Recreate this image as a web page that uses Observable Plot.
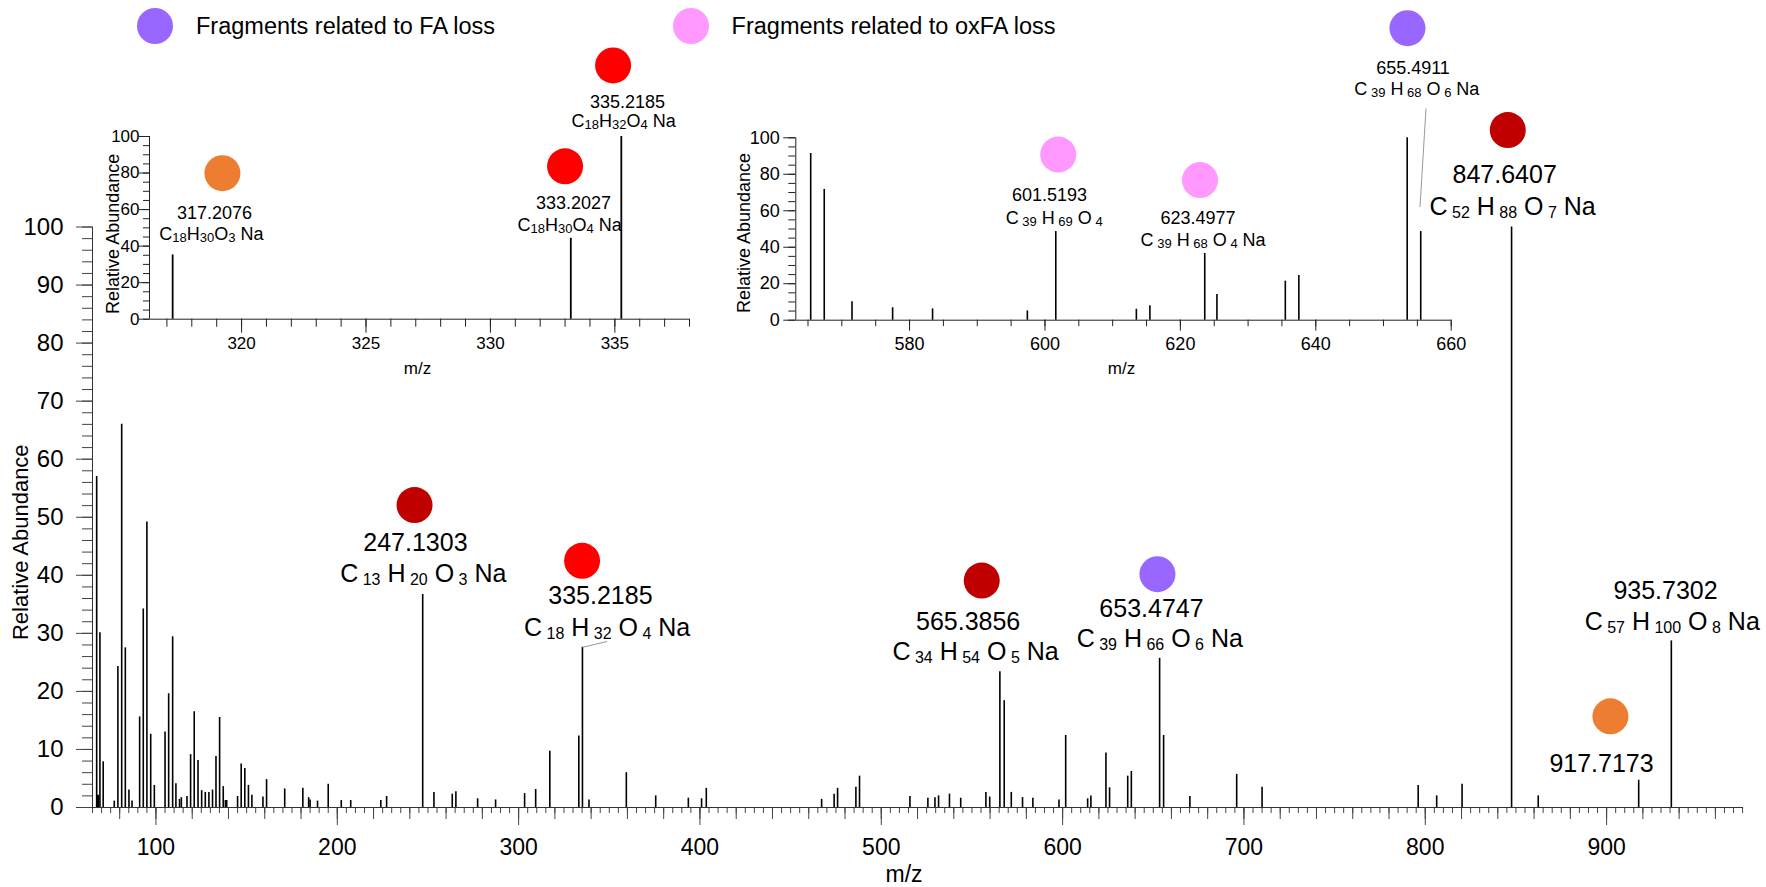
<!DOCTYPE html>
<html>
<head>
<meta charset="utf-8">
<script src="https://cdn.jsdelivr.net/npm/d3@7"></script>
<script src="https://cdn.jsdelivr.net/npm/@observablehq/plot@0.6"></script>
<style>
  html, body { margin: 0; padding: 0; background: #fff; overflow: hidden; }
  #wrap { position: relative; width: 1766px; height: 887px; font-family: "Liberation Sans", Arial, Helvetica, sans-serif; }
  #wrap svg { position: absolute; left: 0; top: 0; }
  #wrap svg text, #wrap svg tspan { white-space: pre; }
  .legend-item { position: absolute; top: 8px; display: flex; align-items: center; font-size: 23.5px; color: #000; white-space: nowrap; }
  .legend-item .sw { width: 36px; height: 36px; border-radius: 50%; margin-right: 23px; }
</style>
</head>
<body>
<div id="wrap"></div>
<script>
// ---------------- DATA ----------------
// Legend
const legendLabels = ["Fragments related to FA loss", "Fragments related to oxFA loss"];
const legendColors = ["#9966FF", "#FF99FF"];

// Main MS/MS spectrum (m/z, relative abundance %)
const mainMz = [67.3, 67.8, 68.3, 69.1, 70.9, 77.0, 79.0, 81.1, 83.1, 85.1, 86.8, 91.0, 93.0, 95.0, 97.1, 99.1,
  105.0, 107.0, 109.2, 111.0, 113.0, 114.0, 117.1, 119.1, 121.1, 123.2, 125.2, 127.2, 129.2, 131.2, 133.1, 135.1,
  137.1, 138.3, 139.0, 145.0, 147.0, 149.0, 151.0, 152.9, 159.0, 161.0, 171.0, 181.0, 184.2, 185.0, 189.1, 195.0,
  202.2, 207.4, 224.0, 227.2, 247.1, 253.3, 263.4, 265.4, 277.4, 287.3, 303.3, 309.4, 317.2, 333.2, 335.2, 338.8,
  359.4, 375.6, 393.6, 400.9, 403.5, 467.1, 474.0, 475.9, 486.0, 488.0, 515.8, 525.7, 529.6, 531.6, 537.6, 543.8,
  557.7, 559.8, 565.4, 567.8, 571.7, 577.9, 583.6, 598.0, 601.7, 613.8, 615.6, 623.9, 625.9, 635.9, 637.9, 653.5,
  655.7, 670.2, 696.0, 710.0, 796.1, 806.3, 820.3, 847.6, 862.3, 917.7, 935.7];
const mainAbund = [57.0, 2.1, 2.1, 30.1, 7.9, 1.1, 24.3, 66.0, 27.5, 3.0, 1.1, 15.6, 34.2, 49.2, 12.6, 3.8,
  13.0, 19.6, 29.4, 4.1, 1.4, 1.7, 1.9, 9.1, 16.5, 8.1, 2.9, 2.6, 2.6, 3.0, 8.8, 15.5,
  3.6, 1.2, 1.2, 1.9, 7.5, 6.7, 3.8, 2.1, 1.8, 4.8, 3.2, 3.3, 1.7, 1.3, 1.1, 4.0,
  1.2, 1.2, 1.2, 1.9, 36.7, 2.6, 2.3, 2.7, 1.5, 1.3, 2.4, 3.1, 9.7, 12.3, 27.6, 1.3,
  6.0, 2.0, 1.6, 1.5, 3.3, 1.4, 2.3, 3.3, 3.5, 5.4, 1.9, 1.6, 1.7, 2.0, 2.3, 1.6,
  2.6, 1.8, 23.4, 18.4, 2.6, 1.7, 1.6, 1.3, 12.4, 1.5, 2.0, 9.4, 3.4, 5.4, 6.2, 25.7,
  12.4, 1.9, 5.7, 3.5, 3.8, 2.0, 4.0, 100, 2.0, 4.7, 28.7];

// Main annotations
const mainLabelMass = ["247.1303", "335.2185", "565.3856", "653.4747", "847.6407", "935.7302", "917.7173"];
const mainLabelFormula = ["C 13 H 20 O 3 Na", "C 18 H 32 O 4 Na", "C 34 H 54 O 5 Na", "C 39 H 66 O 6 Na", "C 52 H 88 O 7 Na", "C 57 H 100 O 8 Na", null];
const mainLabelColor = ["#C00000", "#FF0000", "#C00000", "#9966FF", "#C00000", null, "#ED7D31"];
// label anchors in data units [m/z, relative abundance]
const mainDotAt = [[242.6, 52.1], [335.0, 42.5], [555.4, 39.1], [652.3, 40.2], [845.5, 116.7], null, [902.1, 15.7]];
const mainMassAt = [[243.1, 44.2], [345.1, 35.0], [547.9, 30.6], [649.0, 32.9], [843.8, 107.5], [932.5, 36.0], [897.2, 6.2]];
const mainFormulaAt = [[247.4, 38.8], [348.8, 29.6], [552.0, 25.4], [653.6, 27.7], [848.2, 102.1], [936.2, 30.6], null];
const mainLeaders = [[335.3, 27.6, 348.8, 28.6]];

// Inset 1 (zoom 316-338)
const in1Mz = [317.23, 333.23, 335.26];
const in1Abund = [35.2, 44.3, 100];
const in1LabelMass = ["317.2076", "333.2027", "335.2185"];
const in1LabelFormula = ["C18H30O3 Na", "C18H30O4 Na", "C18H32O4 Na"];
const in1LabelColor = ["#ED7D31", "#FF0000", "#FF0000"];
const in1DotAt = [[319.23, 79.9], [333.0, 83.7], [334.93, 138.9]];
const in1MassAt = [[318.91, 55.0], [333.34, 60.4], [335.51, 115.7]];
const in1FormulaAt = [[318.79, 43.6], [333.18, 48.5], [335.35, 105.1]];

// Inset 2 (zoom 563-660)
const in2Mz = [565.4, 567.4, 571.5, 577.5, 583.4, 597.4, 601.6, 613.5, 615.5, 623.6, 625.4, 635.5, 637.5, 653.5, 655.5];
const in2Abund = [91.4, 71.7, 10.1, 6.8, 6.2, 5.1, 48.6, 6.0, 7.9, 36.6, 14.1, 21.4, 24.5, 100, 48.6];
const in2LabelMass = ["601.5193", "623.4977", "655.4911"];
const in2LabelFormula = ["C 39 H 69 O 4", "C 39 H 68 O 4 Na", "C 39 H 68 O 6 Na"];
const in2LabelColor = ["#FF99FF", "#FF99FF", "#9966FF"];
const in2DotAt = [[601.96, 90.8], [622.9, 76.8], [653.54, 160.1]];
const in2MassAt = [[600.68, 65.1], [622.6, 52.9], [654.36, 135.1]];
const in2FormulaAt = [[601.36, 52.5], [623.36, 40.8], [654.93, 123.7]];
const in2Leaders = [[655.39, 62.1, 656.28, 116.1]];

// ---------------- DRAWING ----------------
const FONT = '"Liberation Sans", Arial, Helvetica, sans-serif';
const W = 1766, H = 887;
const wrap = document.getElementById("wrap");

function style() {
  return {fontFamily: FONT, background: "transparent", overflow: "visible", color: "#000"};
}

// rewrite chemical formulas with subscript numbers
function subscriptify(svg, formulas, subSize, shift) {
  const set = new Set(formulas.filter(Boolean));
  d3.select(svg).selectAll("text").each(function () {
    const s = this.textContent;
    if (!set.has(s)) return;
    this.textContent = "";
    const parts = s.split(/(\s*\d+)/).filter((p) => p !== "");
    let sub = false;
    for (const p of parts) {
      const isSub = /\d/.test(p);
      const t = d3.select(this).append("tspan").text(p);
      if (isSub) {
        t.attr("font-size", subSize);
        if (!sub) t.attr("dy", shift);
      } else if (sub) {
        t.attr("dy", -shift);
      }
      sub = isSub;
    }
  });
}

function annotationMarks(dotAt, massAt, formulaAt, mass, formula, color, massSize, r) {
  const n = mass.length;
  const iDot = d3.range(n).filter((i) => dotAt[i]);
  const iForm = d3.range(n).filter((i) => formulaAt[i] && formula[i]);
  return [
    Plot.dot(iDot, {x: (i) => dotAt[i][0], y: (i) => dotAt[i][1], r, fill: (i) => color[i], stroke: "none"}),
    Plot.text(d3.range(n), {x: (i) => massAt[i][0], y: (i) => massAt[i][1], text: (i) => mass[i],
      fontSize: massSize, lineAnchor: "bottom", textAnchor: "middle", fill: "#000"}),
    Plot.text(iForm, {x: (i) => formulaAt[i][0], y: (i) => formulaAt[i][1], text: (i) => formula[i],
      fontSize: massSize, lineAnchor: "bottom", textAnchor: "middle", fill: "#000"})
  ];
}

function yTitle(size, dx, dy) {
  return Plot.text(["Relative Abundance"], {text: (d) => d, frameAnchor: "left", rotate: -90, textAnchor: "middle",
    lineAnchor: "middle", dx, dy, fontSize: size, fill: "#000"});
}
function xTitle(size, dx, dy) {
  return Plot.text(["m/z"], {text: (d) => d, frameAnchor: "bottom", textAnchor: "middle", lineAnchor: "middle",
    dx, dy, fontSize: size, fill: "#000"});
}

// ---- Main spectrum ----
const mainX = [65, 975.5];
const mainPlot = Plot.plot({
  width: W, height: H,
  marginLeft: 92, marginRight: 23, marginTop: 226.5, marginBottom: 80,
  x: {domain: mainX},
  y: {domain: [0, 100]},
  style: style(),
  marks: [
    Plot.axisY(d3.range(0, 101, 2), {tickSize: 10, tickFormat: () => "", stroke: "#444", label: null}),
    Plot.axisY(d3.range(0, 101, 10), {tickSize: 16, tickPadding: 13, fontSize: 24, stroke: "#444", label: null}),
    Plot.axisX(d3.range(65, 976, 5), {tickSize: 6, tickFormat: () => "", stroke: "#444", label: null}),
    Plot.axisX(d3.range(80, 976, 20), {tickSize: 12, tickFormat: () => "", stroke: "#444", label: null}),
    Plot.axisX(d3.range(100, 901, 100), {tickSize: 18, tickPadding: 13, fontSize: 23, stroke: "#444", label: null}),
    Plot.ruleY([0], {stroke: "#333"}),
    Plot.ruleX([mainX[0]], {y1: 0, y2: 100, stroke: "#333"}),
    Plot.ruleX(d3.range(mainMz.length), {x: (i) => mainMz[i], y1: 0, y2: (i) => mainAbund[i], stroke: "#000", strokeWidth: 1.6}),
    Plot.link(mainLeaders, {x1: (d) => d[0], y1: (d) => d[1], x2: (d) => d[2], y2: (d) => d[3], stroke: "#999", strokeWidth: 1}),
    ...annotationMarks(mainDotAt, mainMassAt, mainFormulaAt, mainLabelMass, mainLabelFormula, mainLabelColor, 25, 18),
    yTitle(22, -72, 25),
    xTitle(23, -14, 67.6)
  ]
});
subscriptify(mainPlot, mainLabelFormula, 16, 3);
wrap.appendChild(mainPlot);

// ---- Inset 1 ----
const in1X = [316.3, 338];
const inset1 = Plot.plot({
  width: W, height: H,
  marginLeft: 149, marginRight: W - 689, marginTop: 136, marginBottom: H - 318.7,
  x: {domain: in1X},
  y: {domain: [0, 100]},
  style: style(),
  marks: [
    Plot.axisY(d3.range(0, 101, 5), {tickSize: 6, tickFormat: () => "", stroke: "#222", label: null}),
    Plot.axisY(d3.range(0, 101, 20), {tickSize: 10, tickPadding: 0, fontSize: 17, stroke: "#222", label: null}),
    Plot.axisX(d3.range(317, 339, 1), {tickSize: 8, tickFormat: () => "", stroke: "#222", label: null}),
    Plot.axisX(d3.range(320, 339, 5), {tickSize: 14, tickPadding: 4, fontSize: 17, stroke: "#222", label: null}),
    Plot.ruleY([0], {stroke: "#222"}),
    Plot.ruleX([in1X[0]], {y1: 0, y2: 100, stroke: "#222"}),
    Plot.ruleX(d3.range(in1Mz.length), {x: (i) => in1Mz[i], y1: 0, y2: (i) => in1Abund[i], stroke: "#000", strokeWidth: 1.8}),
    ...annotationMarks(in1DotAt, in1MassAt, in1FormulaAt, in1LabelMass, in1LabelFormula, in1LabelColor, 18, 18),
    yTitle(18, -36.5, 6),
    xTitle(17, -2, 49.3)
  ]
});
subscriptify(inset1, in1LabelFormula, 13, 2);
wrap.appendChild(inset1);

// ---- Inset 2 ----
const in2X = [563.2, 660];
const inset2 = Plot.plot({
  width: W, height: H,
  marginLeft: 795.3, marginRight: W - 1450.7, marginTop: 137.3, marginBottom: H - 319.7,
  x: {domain: in2X},
  y: {domain: [0, 100]},
  style: style(),
  marks: [
    Plot.axisY(d3.range(0, 101, 5), {tickSize: 7, tickFormat: () => "", stroke: "#222", label: null}),
    Plot.axisY(d3.range(0, 101, 20), {tickSize: 12, tickPadding: 4, fontSize: 18, stroke: "#222", label: null}),
    Plot.axisX(d3.range(565, 661, 5), {tickSize: 6.5, tickFormat: () => "", stroke: "#222", label: null}),
    Plot.axisX(d3.range(580, 661, 20), {tickSize: 11, tickPadding: 6.5, fontSize: 18, stroke: "#222", label: null}),
    Plot.ruleY([0], {stroke: "#222"}),
    Plot.ruleX([in2X[0]], {y1: 0, y2: 100, stroke: "#222"}),
    Plot.ruleX(d3.range(in2Mz.length), {x: (i) => in2Mz[i], y1: 0, y2: (i) => in2Abund[i], stroke: "#000", strokeWidth: 1.6}),
    Plot.link(in2Leaders, {x1: (d) => d[0], y1: (d) => d[1], x2: (d) => d[2], y2: (d) => d[3], stroke: "#999", strokeWidth: 1}),
    ...annotationMarks(in2DotAt, in2MassAt, in2FormulaAt, in2LabelMass, in2LabelFormula, in2LabelColor, 18, 18),
    yTitle(18, -52, 4),
    xTitle(17, -2, 48.6)
  ]
});
subscriptify(inset2, in2LabelFormula, 13, 2);
wrap.appendChild(inset2);

// ---- Legend (HTML, above the plots) ----
const legendLeft = [137, 672.6];
legendLabels.forEach((lab, i) => {
  const item = document.createElement("div");
  item.className = "legend-item";
  item.style.left = legendLeft[i] + "px";
  const sw = document.createElement("span");
  sw.className = "sw";
  sw.style.background = legendColors[i];
  const tx = document.createElement("span");
  tx.textContent = lab;
  item.appendChild(sw);
  item.appendChild(tx);
  wrap.appendChild(item);
});
</script>
</body>
</html>
